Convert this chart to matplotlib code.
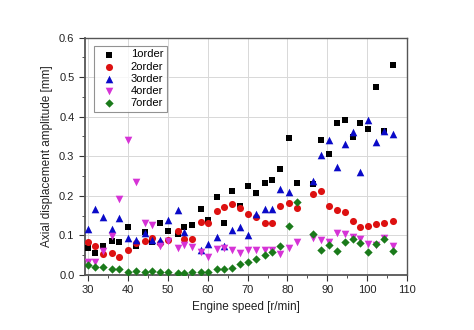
import numpy as np
import matplotlib.pyplot as plt
from matplotlib.ticker import MultipleLocator

# Engine speeds (r/min)
speed = [30, 31.7, 33.8, 35.9, 37.8, 40, 42.1, 44.2, 46, 48.1, 50.1, 52.5, 54, 56,
         58.2, 60.1, 62.4, 64.2, 66.2, 68.2, 70.2, 72.2, 74.3, 76.1, 78.2, 80.3, 82.3,
         86.3, 88.3, 90.4, 92.3, 94.3, 96.4, 98.3, 100.3, 102.3, 104.3, 106.4]

order1 = [0.067, 0.055, 0.072, 0.085, 0.082, 0.120, 0.073, 0.108, 0.082, 0.130, 0.111, 0.103,
          0.120, 0.126, 0.166, 0.139, 0.196, 0.131, 0.211, 0.173, 0.226, 0.206, 0.233, 0.241,
          0.267, 0.346, 0.232, 0.230, 0.342, 0.305, 0.383, 0.391, 0.349, 0.383, 0.368, 0.474,
          0.365, 0.532]
order2 = [0.083, 0.073, 0.053, 0.056, 0.045, 0.064, 0.080, 0.086, 0.093, 0.080, 0.088, 0.111,
          0.090, 0.090, 0.135, 0.132, 0.161, 0.171, 0.180, 0.168, 0.155, 0.147, 0.131, 0.131,
          0.174, 0.181, 0.169, 0.204, 0.211, 0.175, 0.163, 0.158, 0.137, 0.122, 0.124, 0.129,
          0.130, 0.137]
order3 = [0.115, 0.166, 0.147, 0.115, 0.145, 0.094, 0.087, 0.105, 0.087, 0.088, 0.139, 0.163,
          0.108, np.nan, 0.064, 0.078, 0.095, 0.073, 0.114, 0.122, 0.100, 0.155, 0.166, 0.166,
          0.218, 0.209, np.nan, 0.238, 0.303, 0.340, 0.272, 0.331, 0.361, 0.260, 0.391, 0.336,
          0.365, 0.356]
order4 = [0.033, 0.033, 0.060, 0.098, 0.191, 0.341, 0.236, 0.131, 0.126, 0.074, 0.086, 0.067,
          0.076, 0.070, 0.057, 0.045, 0.065, 0.069, 0.062, 0.056, 0.062, 0.062, 0.063, 0.062,
          0.052, 0.069, 0.083, 0.093, 0.088, 0.083, 0.105, 0.103, 0.095, 0.090, 0.078, 0.076,
          0.094, 0.074]
order7 = [0.025, 0.021, 0.019, 0.015, 0.015, 0.008, 0.010, 0.008, 0.010, 0.008, 0.008, 0.005,
          0.005, 0.008, 0.008, 0.008, 0.014, 0.016, 0.017, 0.027, 0.033, 0.039, 0.051, 0.059,
          0.072, 0.124, 0.185, 0.104, 0.063, 0.076, 0.061, 0.083, 0.090, 0.081, 0.059, 0.077,
          0.090, 0.061]

series = [
    (order1, 's', '#000000', '1order', 20),
    (order2, 'o', '#dd1111', '2order', 26),
    (order3, '^', '#0a0ac8', '3order', 30),
    (order4, 'v', '#d633d6', '4order', 30),
    (order7, 'D', '#1a7a1a', '7order', 18),
]

plt.rcParams['font.family'] = 'Liberation Sans'
fig = plt.figure(figsize=(4.74, 3.30), dpi=100)
ax = fig.add_axes([0.179, 0.167, 0.68, 0.719])

for vals, m, c, lab, s in series:
    ax.scatter(speed, vals, marker=m, color=c, s=s, label=lab, linewidths=0, zorder=3)

ax.set_xlim(29.2, 110)
ax.set_ylim(0, 0.6)
ax.xaxis.set_major_locator(MultipleLocator(10))
ax.xaxis.set_minor_locator(MultipleLocator(5))
ax.yaxis.set_major_locator(MultipleLocator(0.1))
ax.yaxis.set_minor_locator(MultipleLocator(0.05))
ax.yaxis.set_major_formatter(plt.FormatStrFormatter('%.1f'))
ax.tick_params(which='both', direction='out', labelsize=8, color='#333333',
               labelcolor='#222222')
ax.tick_params(which='major', length=4)
ax.tick_params(which='minor', length=2.5)
ax.grid(True, color='#d8d8d8', linewidth=0.7, zorder=0)
ax.set_axisbelow(True)
for sp in ax.spines.values():
    sp.set_color('#555555')
    sp.set_linewidth(1.0)
ax.spines['left'].set_linewidth(1.3)
ax.spines['bottom'].set_linewidth(1.3)

ax.set_xlabel('Engine speed [r/min]', fontsize=8.5, color='#222222')
ax.set_ylabel('Axial displacement amplitude [mm]', fontsize=8.5, color='#222222')

leg = ax.legend(loc='upper left', fontsize=8, frameon=True, fancybox=False,
                edgecolor='#777777', handletextpad=1.0, borderpad=0.35,
                labelspacing=0.2, bbox_to_anchor=(0.01, 0.99))
leg.get_frame().set_linewidth(0.8)

plt.savefig('out.png', dpi=100)
